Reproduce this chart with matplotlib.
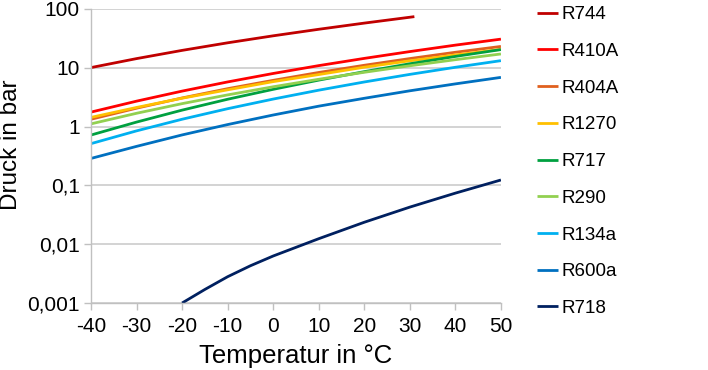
#!/usr/bin/env python3
'''Saturation pressure of refrigerants vs temperature (log scale).'''

import matplotlib
matplotlib.use('Agg')
import matplotlib.pyplot as plt
from matplotlib.ticker import FixedLocator, FixedFormatter, NullLocator

plt.rcParams['font.family'] = ['Liberation Sans', 'DejaVu Sans']

temps = [-40, -30, -20, -10, 0, 10, 20, 30, 40, 50]
temps_r744 = [-40, -30, -20, -10, 0, 10, 20, 30, 31]
temps_r718 = [-20, -15, -10, -5, 0, 10, 20, 30, 40, 50]

r744 = [10.05, 14.28, 19.7, 26.5, 34.85, 45.0, 57.3, 72.1, 73.8]
r410a = [1.76, 2.7, 4.0, 5.73, 7.98, 10.85, 14.4, 18.8, 24.2, 30.6]
r404a = [1.33, 2.05, 3.06, 4.4, 6.1, 8.3, 11.0, 14.3, 18.3, 23.0]
r1270 = [1.43, 2.11, 3.03, 4.21, 5.8, 7.65, 10.2, 13.1, 16.5, 20.5]
r717 = [0.717, 1.19, 1.90, 2.91, 4.29, 6.15, 8.57, 11.67, 15.55, 20.33]
r290 = [1.11, 1.68, 2.45, 3.45, 4.74, 6.36, 8.36, 10.79, 13.69, 17.13]
r134a = [0.512, 0.844, 1.33, 2.01, 2.93, 4.15, 5.72, 7.70, 10.17, 13.18]
r600a = [0.287, 0.46, 0.72, 1.08, 1.57, 2.22, 3.02, 4.05, 5.31, 6.85]
r718 = [0.001, 0.0017, 0.0028, 0.0043, 0.0063, 0.0124, 0.0236, 0.0427, 0.0738, 0.1235]

y_ticks = [0.001, 0.01, 0.1, 1, 10, 100]
y_tick_labels = ['0,001', '0,01', '0,1', '1', '10', '100']
x_ticks = [-40, -30, -20, -10, 0, 10, 20, 30, 40, 50]

series = [
    ('R744', temps_r744, r744, '#C00000'),
    ('R410A', temps, r410a, '#FF0000'),
    ('R404A', temps, r404a, '#E0601E'),
    ('R1270', temps, r1270, '#FFC000'),
    ('R717', temps, r717, '#00A040'),
    ('R290', temps, r290, '#92D050'),
    ('R134a', temps, r134a, '#00B0F0'),
    ('R600a', temps, r600a, '#0070C0'),
    ('R718', temps_r718, r718, '#002060'),
]

fig = plt.figure(figsize=(7.08, 3.70), dpi=100)
ax = fig.add_axes([0.1285, 0.181, 0.579, 0.795])

for name, x, y, c in series:
    ax.plot(x, y, color=c, lw=2, label=name, solid_capstyle='butt')

ax.set_yscale('log')
ax.set_ylim(0.001, 100)
ax.set_xlim(-40, 50)
ax.yaxis.set_major_locator(FixedLocator(y_ticks))
ax.yaxis.set_major_formatter(FixedFormatter(y_tick_labels))
ax.yaxis.set_minor_locator(NullLocator())
ax.set_xticks(x_ticks)
ax.set_xticklabels([str(t) for t in x_ticks])

ax.grid(axis='y', color='#D0D0D0', lw=1.3)
ax.set_axisbelow(True)
for side in ['top', 'right']:
    ax.spines[side].set_visible(False)
for side in ['left', 'bottom']:
    ax.spines[side].set_color('#C0C0C0')
    ax.spines[side].set_linewidth(1.0)
ax.tick_params(axis='both', colors='#C0C0C0', labelcolor='black',
               labelsize=15, length=5, width=1)
ax.tick_params(axis='x', pad=5)
ax.tick_params(axis='y', pad=3)

ax.set_xlabel('Temperatur in °C', fontsize=18.5, labelpad=6)
ax.set_ylabel('Druck in bar', fontsize=17.5)
ax.yaxis.set_label_coords(-0.168, 0.537)

ax.legend(loc='upper left', bbox_to_anchor=(1.07, 1.035), frameon=False,
          fontsize=13.5, handlelength=1.1, handletextpad=0.2,
          labelspacing=1.045, borderaxespad=0)

fig.savefig('out.png', dpi=100)
